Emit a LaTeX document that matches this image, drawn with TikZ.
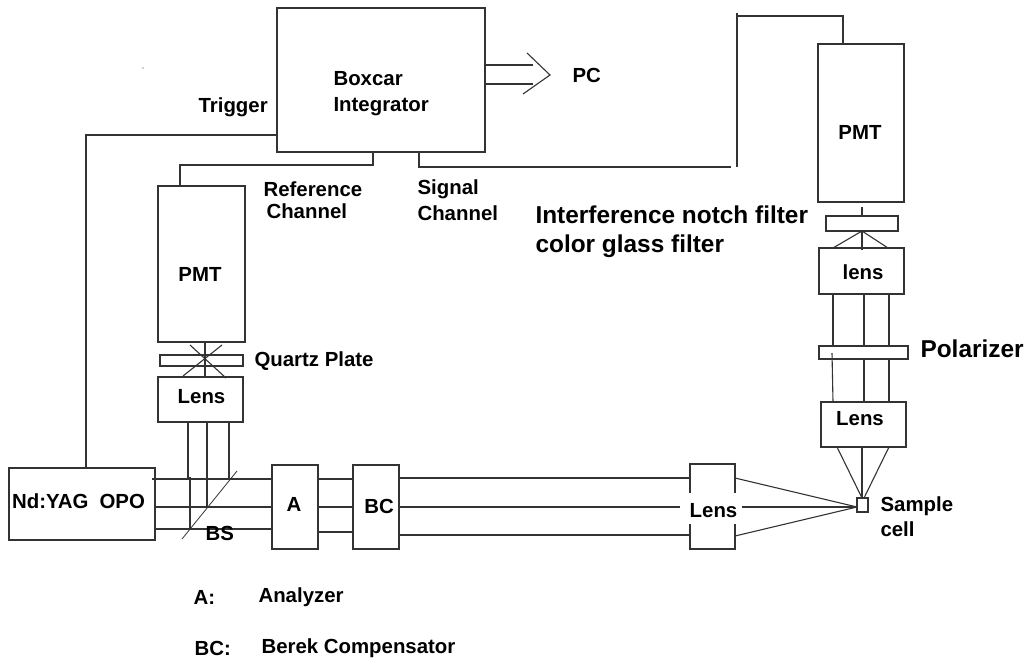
\documentclass[tikz,border=0pt]{standalone}
\usepackage{fontspec}
\setmainfont{Liberation Sans}
\usetikzlibrary{positioning}
\begin{document}
\begin{tikzpicture}[x=1pt,y=-1pt,line width=1.1pt,draw=black!80]
    \tikzstyle{part}=[rectangle,draw=black!80,outer sep=0pt,inner sep=0pt]
    \tikzstyle{note}=[inner sep=0pt,anchor=west,align=left,font=\fontsize{20.4}{25.5}\selectfont\bfseries]
    \tikzstyle{big note}=[note,font=\fontsize{24.4}{29}\selectfont\bfseries]
    \useasboundingbox (0,0) rectangle (1033,664);

    % boxes
    \node[part,minimum width=208pt,minimum height=144pt] (Box) at (381,80) {};
    \node[part,minimum width=146pt,minimum height=72pt] (Laser) at (82,504) {};
    \node[part,minimum width=87pt,minimum height=156pt] (PMT-1) at (201.5,264) {};
    \node[part,minimum width=83pt,minimum height=11pt] (Quartz) at (201.5,360.5) {};
    \node[part,minimum width=85pt,minimum height=45pt] (Lens-1) at (200.5,399.5) {};
    \node[part,minimum width=46pt,minimum height=84pt] (A) at (295,507) {};
    \node[part,minimum width=46pt,minimum height=84pt] (BC) at (376,507) {};
    \node[part,draw=none,minimum width=45pt,minimum height=85pt] (Lens-2) at (712.5,506.5) {};
    \node[part,minimum width=11pt,minimum height=14pt] (Cell) at (862.5,505) {};
    \node[part,minimum width=85pt,minimum height=45pt] (Lens-3) at (863.5,424.5) {};
    \node[part,minimum width=89pt,minimum height=13pt] (Pol) at (863.5,352.5) {};
    \node[part,minimum width=85pt,minimum height=46pt] (Lens-4) at (861.5,271) {};
    \node[part,minimum width=72pt,minimum height=15pt] (Filter) at (862,223.5) {};
    \node[part,minimum width=86pt,minimum height=158pt] (PMT-2) at (861,123) {};

    % helper rows and columns
    \coordinate (Y1) at (0,479);
    \coordinate (Y2) at (0,507);
    \coordinate (Y3) at (0,529);
    \coordinate (X1) at (188,0);
    \coordinate (X2) at (207,0);
    \coordinate (X3) at (229,0);
    \coordinate (X4) at (833,0);
    \coordinate (X5) at (864,0);
    \coordinate (X6) at (889,0);
    \coordinate (Tip) at (862,498);
    \coordinate (Focus) at (857,507);

    % lens with open sides
    \draw (Lens-2.north west) ++(0,29) -- ++(0,-29) -- (Lens-2.north east) -- ++(0,29);
    \draw (Lens-2.south west) ++(0,-25) -- ++(0,25) -- (Lens-2.south east) -- ++(0,-25);

    % electronics
    \coordinate (Trig) at (86,135);
    \draw (Laser.north -| Trig) -- (Trig) -- (Box.west |- Trig);
    \coordinate (Ref) at (373,165);
    \draw (Box.south -| Ref) -- (Ref) -- (180,165) -- (PMT-1.north -| 180,0);
    \coordinate (Sig) at (419,167);
    \draw (Box.south -| Sig) -- (Sig) -- (731,167);
    \coordinate (Sig2) at (737,167);
    \draw (Sig2) -- (737,13);
    \draw (737,16) -- (843,16) -- (PMT-2.north -| 843,0);
    \draw (Box.east |- 0,65) -- (533,65);
    \draw (Box.east |- 0,84) -- (533,84);
    \draw (527,53) -- (550,75) -- (523,94);
    \fill[black!80] (143,68) circle (0.7pt);

    % left detector
    \draw (PMT-1.south -| 205,0) -- (Lens-1.north -| 205,0);
    \draw (190,345) -- (226,378);
    \draw (222,345) -- (183,376);
    \draw (Lens-1.south -| X1) -- (X1 |- Y1);
    \draw (190,477) -- (190,529);
    \draw (Lens-1.south -| X2) -- (X2 |- Y2);
    \draw (Lens-1.south -| X3) -- (X3 |- Y1);
    \draw[line width=0.8pt] (237,471) -- (182,539);

    % beams
    \draw (152,479) -- (A.west |- Y1);
    \draw (Laser.east |- Y2) -- (A.west |- Y2);
    \draw (Laser.east |- Y3) -- (A.west |- Y3);
    \draw (A.east |- Y1) -- (BC.west |- Y1);
    \draw (A.east |- Y2) -- (BC.west |- Y2);
    \draw (A.east |- 0,532) -- (BC.west |- 0,532);
    \draw (BC.east |- 0,478) -- (Lens-2.west |- 0,478);
    \draw (BC.east |- Y2) -- (680,507);
    \draw (BC.east |- 0,535) -- (Lens-2.west |- 0,535);
    \draw (Lens-2.east |- 0,478) -- (Focus);
    \draw (742,507) -- (Focus);
    \draw (Lens-2.east |- 0,536) -- (Focus);

    % right detector
    \draw (Lens-3.south -| 837,0) -- (Tip);
    \draw (Lens-3.south -| Tip) -- (Tip);
    \draw (Lens-3.south -| 889,0) -- (864,498);
    \draw (Lens-3.north -| X4) -- (832,353);
    \draw (Lens-3.north -| X5) -- (Pol.south -| X5);
    \draw (Lens-3.north -| X6) -- (Pol.south -| X6);
    \draw (Pol.north -| X4) -- (Lens-4.south -| X4);
    \draw (Pol.north -| X5) -- (Lens-4.south -| X5);
    \draw (Pol.north -| X6) -- (Lens-4.south -| X6);
    \draw (Filter.south -| 862,0) -- (833,248);
    \draw (Filter.south -| 862,0) -- (888,248);
    \draw (Filter.south -| 862,0) -- (862,250);
    \draw (862,207) -- (Filter.north -| 862,0);

    % texts
    \node[note] (t-box) at (333,93.5) {Boxcar\\Integrator};
    \node[note,anchor=center] (t-laser) at (78.5,501) {Nd:YAG\hspace{0.55em}OPO};
    \node[note,anchor=center] (t-pmt1) at (200,274) {PMT};
    \node[note,anchor=center] (t-lens1) at (201.5,397) {Lens};
    \node[note,anchor=center] (t-a) at (294,504) {A};
    \node[note,anchor=center] (t-bc) at (379,506) {BC};
    \node[note,anchor=center] (t-lens2) at (713.5,511) {Lens};
    \node[note,anchor=center] (t-lens3) at (860,419) {Lens};
    \node[note,anchor=center] (t-lens4) at (863,272) {lens};
    \node[note,anchor=center] (t-pmt2) at (860,132) {PMT};
    \node[note] (t-pc) at (572,75) {PC};
    \node[note] (t-trig) at (198,107) {Trigger};
    \node[note] (t-ref) at (263,200) {Reference\\[-4pt]\hspace*{3pt}Channel};
    \node[note] (t-sig) at (417,200) {Signal\\Channel};
    \node[big note] (t-filter) at (535,231.5) {Interference notch filter\\color glass filter};
    \node[note] (t-quartz) at (254,361) {Quartz Plate};
    \node[big note] (t-pol) at (920,349) {Polarizer};
    \node[note] (t-bs) at (205,533) {BS};
    \node[note] (t-cell) at (880,516.5) {Sample\\cell};
    \node[note] (t-akey) at (193,597) {A:};
    \node[note] (t-an) at (258,597) {Analyzer};
    \node[note] (t-bckey) at (194,648) {BC:};
    \node[note] (t-ber) at (261,648) {Berek Compensator};
\end{tikzpicture}
\end{document}
